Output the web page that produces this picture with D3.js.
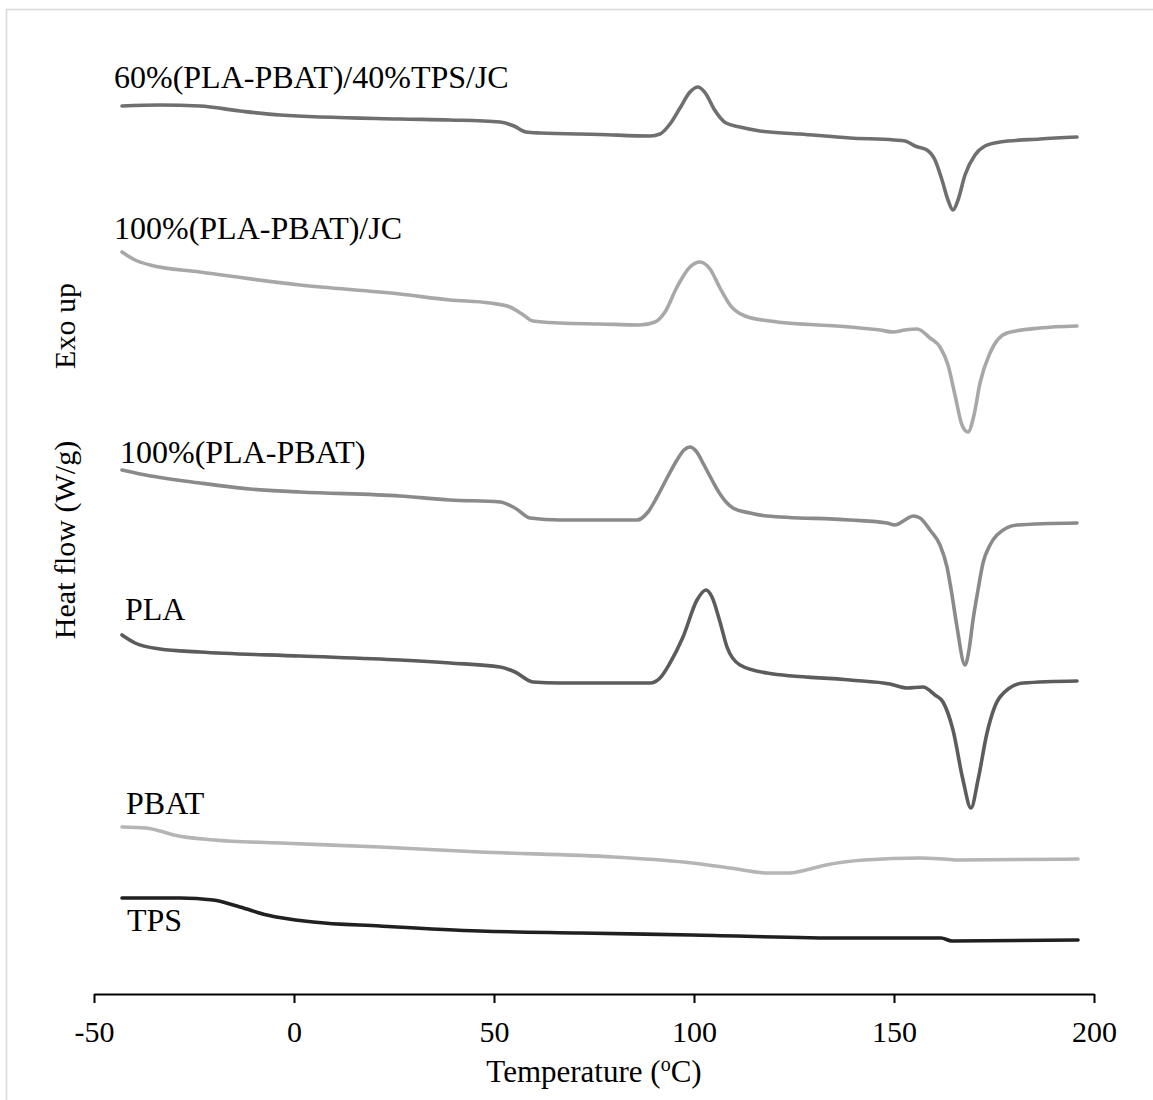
<!DOCTYPE html>
<html>
<head>
<meta charset="utf-8">
<script src="https://cdn.jsdelivr.net/npm/d3@7/dist/d3.min.js"></script>
<style>
  html, body { margin: 0; padding: 0; background: #fff; }
  svg text { font-family: "Liberation Serif", "Times New Roman", serif; fill: #000; }
</style>
</head>
<body>
<svg id="chart" width="1153" height="1100"></svg>
<script>
// DSC heating scans, curves stacked with an offset (heat flow, arbitrary offset units)
const xTicks = [-50, 0, 50, 100, 150, 200];

const temp60 = [-43, -33.5, -23.5, -13.5, -3.5, 26.5, 39, 51.5, 55, 58, 61.5, 76.5, 89, 91.5, 94, 96.5, 99, 101, 103, 105, 108, 111.5, 116.5, 126.5, 139, 150, 152.75, 155.25, 158.25, 160.25, 162, 163.5, 164.75, 166, 167.75, 170.25, 172.75, 176.5, 186.5, 195.75];
const flow60 = [88.8, 88.9, 88.8, 88.3, 87.9, 87.5, 87.4, 87.2, 86.8, 86.2, 86.1, 85.95, 85.8, 86.0, 87.0, 88.6, 90.2, 90.7, 90.0, 88.5, 87.1, 86.7, 86.3, 86.0, 85.6, 85.4, 85.3, 84.8, 84.4, 83.4, 81.4, 79.4, 78.4, 79.4, 81.9, 83.9, 84.8, 85.2, 85.5, 85.7];

const tempJC = [-43, -39.75, -36, -23.5, 1.5, 26.5, 39, 49, 54, 57, 59.75, 66.5, 76.5, 86.5, 90.25, 92.75, 95.75, 99, 101.5, 104, 106.5, 109, 112.75, 119, 139, 146.5, 149.75, 152.75, 155.75, 159, 161.5, 163.5, 165.25, 167, 168.5, 170, 171.5, 174, 178.25, 186.5, 195.75];
const flowJC = [74.2, 73.4, 72.9, 72.2, 70.9, 70.0, 69.4, 69.1, 68.7, 68.0, 67.3, 67.1, 67.0, 66.9, 67.2, 68.2, 70.7, 72.7, 73.2, 72.5, 70.6, 68.9, 67.8, 67.3, 66.7, 66.4, 66.2, 66.4, 66.5, 65.6, 64.7, 62.9, 59.9, 56.9, 56.2, 57.9, 61.1, 64.1, 66.1, 66.6, 66.8];

const tempBlend = [-43, -38.5, -23.5, -11, 1.5, 26.5, 39, 51.5, 55.25, 59, 66.5, 85.75, 88.5, 90.75, 93.25, 95.75, 97.5, 99, 100.5, 102.5, 104.5, 106.5, 109.75, 114, 118.25, 139, 148.25, 150.25, 152.75, 154.75, 156.5, 159, 161.5, 163.25, 164.5, 165.75, 167.75, 168.75, 169.75, 171, 172.25, 174, 175.75, 180.75, 195.75];
const flowBlend = [52.4, 52.0, 51.1, 50.5, 50.2, 49.8, 49.4, 49.2, 48.6, 47.6, 47.4, 47.4, 48.2, 49.7, 51.6, 53.4, 54.4, 54.7, 54.3, 52.9, 51.4, 50.0, 48.6, 48.1, 47.8, 47.4, 47.1, 46.9, 47.4, 47.8, 47.6, 46.4, 44.9, 42.7, 39.9, 36.7, 32.9, 34.4, 37.4, 40.4, 43.1, 44.9, 45.9, 46.9, 47.1];

const tempPLA = [-43, -39.75, -33.5, -23.5, 1.5, 26.5, 39, 51.5, 55.25, 59.75, 66.5, 89, 91.5, 94, 97.25, 100.75, 103, 104.5, 106.5, 108.25, 111.5, 118.25, 139, 149, 153.25, 157.25, 160.25, 162.25, 164.75, 167.25, 169.25, 171, 173.25, 176.5, 182.25, 195.75];
const flowPLA = [35.9, 35.1, 34.5, 34.2, 33.8, 33.4, 33.1, 32.7, 32.2, 31.2, 31.1, 31.1, 31.6, 33.1, 35.7, 39.4, 40.4, 39.7, 37.2, 34.7, 32.9, 32.1, 31.4, 31.0, 30.6, 30.7, 29.9, 29.2, 26.4, 21.4, 18.6, 21.4, 26.1, 29.7, 31.1, 31.3];

const tempPBAT = [-43, -37, -33.5, -30, -20, -3.5, 21.5, 46.5, 80, 99.5, 109, 118.5, 124, 128, 133, 142.5, 156.75, 162.5, 166.5, 196];
const flowPBAT = [16.7, 16.6, 16.3, 15.9, 15.4, 15.1, 14.7, 14.2, 13.7, 13.1, 12.6, 12.1, 12.1, 12.4, 12.9, 13.4, 13.6, 13.5, 13.4, 13.5];

const tempTPS = [-43, -28.5, -20.25, -13.5, -6.75, 4.75, 21.5, 46.5, 71.5, 99.5, 137.75, 161.75, 164.5, 196];
const flowTPS = [9.6, 9.6, 9.4, 8.7, 7.9, 7.2, 6.8, 6.3, 6.1, 5.9, 5.6, 5.6, 5.3, 5.4];

const seriesNames = ["60%(PLA-PBAT)/40%TPS/JC", "100%(PLA-PBAT)/JC", "100%(PLA-PBAT)", "PLA", "PBAT", "TPS"];
const seriesTemps = [temp60, tempJC, tempBlend, tempPLA, tempPBAT, tempTPS];
const seriesFlows = [flow60, flowJC, flowBlend, flowPLA, flowPBAT, flowTPS];
const seriesColors = ["#6f6f6f", "#a8a8a8", "#8a8a8a", "#5c5c5c", "#b5b5b5", "#202020"];

const svg = d3.select("#chart");
const W = 1153, H = 1100;

// frame
svg.append("path")
  .attr("d", `M6.5,${H} V9.5 H${W}`)
  .attr("fill", "none")
  .attr("stroke", "#d9d9d9")
  .attr("stroke-width", 1.6);

const x = d3.scaleLinear().domain([-50, 200]).range([94, 1094]);
const y = d3.scaleLinear().domain([0, 98.5]).range([994, 9]);

const line = d3.line()
  .x(d => x(d[0]))
  .y(d => y(d[1]))
  .curve(d3.curveMonotoneX);

const curves = svg.append("g").attr("class", "curves");
seriesNames.forEach((name, i) => {
  const pts = seriesTemps[i].map((t, k) => [t, seriesFlows[i][k]]);
  curves.append("path")
    .datum(pts)
    .attr("d", line)
    .attr("fill", "none")
    .attr("stroke", seriesColors[i])
    .attr("stroke-width", 3.6)
    .attr("stroke-linecap", "round")
    .attr("stroke-linejoin", "round");
});

// curve labels
const labelPos = [
  { x: 114, y: 88 },
  { x: 114, y: 239 },
  { x: 120, y: 463 },
  { x: 125, y: 620 },
  { x: 126, y: 814 },
  { x: 127, y: 931 }
];
svg.append("g").selectAll("text")
  .data(seriesNames)
  .join("text")
  .attr("x", (d, i) => labelPos[i].x)
  .attr("y", (d, i) => labelPos[i].y)
  .attr("font-size", 32)
  .attr("word-spacing", 0)
  .text(d => d);

// x axis
const xAxis = d3.axisBottom(x)
  .tickValues(xTicks)
  .tickSize(9)
  .tickSizeOuter(0)
  .tickPadding(18)
  .tickFormat(d => String(d));

const gx = svg.append("g")
  .attr("transform", "translate(0,994)")
  .call(xAxis);
gx.select(".domain").attr("stroke", "#000").attr("stroke-width", 2);
gx.selectAll(".tick line").attr("stroke", "#000").attr("stroke-width", 2);
gx.selectAll(".tick text")
  .attr("font-size", 30)
  .attr("font-family", "Liberation Serif, Times New Roman, serif")
  .attr("fill", "#000");

// axis titles
const xt = svg.append("text")
  .attr("x", 594)
  .attr("y", 1082)
  .attr("text-anchor", "middle")
  .attr("font-size", 31);
xt.append("tspan").text("Temperature (");
xt.append("tspan").attr("font-size", 20).attr("dy", -11).text("o");
xt.append("tspan").attr("dy", 11).text("C)");

svg.append("text")
  .attr("transform", "translate(75,540) rotate(-90)")
  .attr("text-anchor", "middle")
  .attr("font-size", 30)
  .text("Heat flow (W/g)");

svg.append("text")
  .attr("transform", "translate(75,326) rotate(-90)")
  .attr("text-anchor", "middle")
  .attr("font-size", 30)
  .text("Exo up");
</script>
</body>
</html>
